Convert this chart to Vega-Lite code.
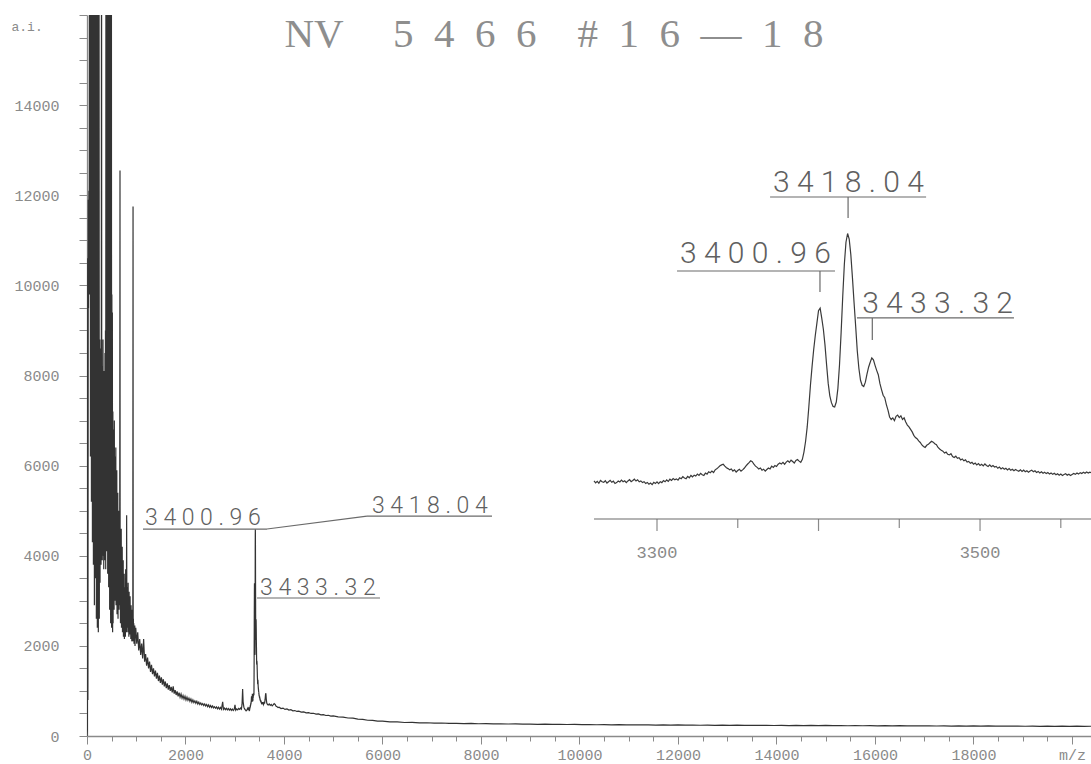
{
"$schema": "https://vega.github.io/schema/vega-lite/v6.json",
"width": 1004, "height": 721,
"autosize": "none",
"padding": {"left": 87, "top": 15, "right": 0, "bottom": 28},
"background": "white",
"config": {"view": {"stroke": null}},
"datasets": {
"spectrum": [
{"mz":0,"ai":0},{"mz":8,"ai":150},{"mz":14,"ai":10600},{"mz":18,"ai":800},{"mz":22,"ai":6000},{"mz":26,"ai":11900},{"mz":30,"ai":9500},{"mz":34,"ai":11200},{"mz":38,"ai":12100},{"mz":42,"ai":10900},{"mz":46,"ai":11700},{"mz":50,"ai":20000},{"mz":54,"ai":9800},{"mz":58,"ai":11400},{"mz":62,"ai":10800},{"mz":66,"ai":20000},{"mz":70,"ai":6200},{"mz":75,"ai":20000},{"mz":80,"ai":8400},{"mz":85,"ai":20000},{"mz":90,"ai":5200},{"mz":95,"ai":20000},{"mz":100,"ai":7000},{"mz":105,"ai":20000},{"mz":110,"ai":4300},{"mz":115,"ai":20000},{"mz":120,"ai":9000},{"mz":125,"ai":20000},{"mz":130,"ai":3800},{"mz":135,"ai":20000},{"mz":140,"ai":6500},{"mz":145,"ai":20000},{"mz":150,"ai":2900},{"mz":155,"ai":18000},{"mz":160,"ai":5400},{"mz":165,"ai":20000},{"mz":170,"ai":3500},{"mz":175,"ai":20000},{"mz":180,"ai":7400},{"mz":185,"ai":20000},{"mz":190,"ai":2600},{"mz":195,"ai":14000},{"mz":200,"ai":4800},{"mz":205,"ai":20000},{"mz":210,"ai":2400},{"mz":215,"ai":11000},{"mz":220,"ai":3100},{"mz":225,"ai":20000},{"mz":230,"ai":2300},{"mz":235,"ai":9500},{"mz":240,"ai":4200},{"mz":245,"ai":16500},{"mz":250,"ai":2600},{"mz":260,"ai":8800},{"mz":265,"ai":3400},{"mz":270,"ai":7500},{"mz":275,"ai":4200},{"mz":280,"ai":8600},{"mz":285,"ai":3800},{"mz":290,"ai":6800},{"mz":295,"ai":20000},{"mz":300,"ai":4500},{"mz":305,"ai":8200},{"mz":310,"ai":3900},{"mz":315,"ai":7400},{"mz":320,"ai":5100},{"mz":325,"ai":8800},{"mz":330,"ai":4000},{"mz":335,"ai":7200},{"mz":340,"ai":3700},{"mz":345,"ai":8100},{"mz":350,"ai":4600},{"mz":355,"ai":6900},{"mz":360,"ai":3900},{"mz":365,"ai":8500},{"mz":370,"ai":4200},{"mz":375,"ai":9000},{"mz":380,"ai":3700},{"mz":385,"ai":20000},{"mz":390,"ai":5400},{"mz":395,"ai":20000},{"mz":400,"ai":4100},{"mz":405,"ai":20000},{"mz":410,"ai":6300},{"mz":415,"ai":20000},{"mz":420,"ai":3600},{"mz":425,"ai":20000},{"mz":430,"ai":7200},{"mz":435,"ai":20000},{"mz":440,"ai":3300},{"mz":445,"ai":20000},{"mz":450,"ai":5900},{"mz":455,"ai":20000},{"mz":460,"ai":2800},{"mz":465,"ai":17000},{"mz":470,"ai":4700},{"mz":475,"ai":20000},{"mz":480,"ai":2500},{"mz":485,"ai":13500},{"mz":490,"ai":3800},{"mz":495,"ai":20000},{"mz":500,"ai":2400},{"mz":505,"ai":9800},{"mz":510,"ai":3400},{"mz":515,"ai":9400},{"mz":520,"ai":2300},{"mz":525,"ai":7200},{"mz":530,"ai":2500},{"mz":535,"ai":6800},{"mz":540,"ai":3100},{"mz":545,"ai":5900},{"mz":550,"ai":2800},{"mz":555,"ai":7000},{"mz":560,"ai":3600},{"mz":565,"ai":6200},{"mz":570,"ai":3000},{"mz":575,"ai":5600},{"mz":580,"ai":3900},{"mz":585,"ai":6400},{"mz":590,"ai":2900},{"mz":595,"ai":5300},{"mz":600,"ai":3500},{"mz":605,"ai":5900},{"mz":610,"ai":2700},{"mz":615,"ai":4800},{"mz":620,"ai":3300},{"mz":625,"ai":5400},{"mz":630,"ai":2600},{"mz":635,"ai":4500},{"mz":640,"ai":3100},{"mz":645,"ai":5000},{"mz":650,"ai":2800},{"mz":655,"ai":4300},{"mz":660,"ai":3000},{"mz":665,"ai":5200},{"mz":670,"ai":12550},{"mz":673,"ai":2900},{"mz":676,"ai":4400},{"mz":680,"ai":2500},{"mz":685,"ai":4000},{"mz":690,"ai":2800},{"mz":695,"ai":4600},{"mz":700,"ai":2400},{"mz":705,"ai":3800},{"mz":710,"ai":2700},{"mz":715,"ai":4200},{"mz":720,"ai":2300},{"mz":725,"ai":3500},{"mz":730,"ai":2600},{"mz":735,"ai":3900},{"mz":740,"ai":2200},{"mz":745,"ai":3400},{"mz":750,"ai":2500},{"mz":755,"ai":3600},{"mz":760,"ai":2150},{"mz":765,"ai":3300},{"mz":770,"ai":2400},{"mz":775,"ai":3200},{"mz":780,"ai":2200},{"mz":785,"ai":3700},{"mz":790,"ai":2500},{"mz":795,"ai":3000},{"mz":800,"ai":2300},{"mz":805,"ai":4900},{"mz":810,"ai":2400},{"mz":815,"ai":3300},{"mz":820,"ai":2600},{"mz":825,"ai":3100},{"mz":830,"ai":2300},{"mz":835,"ai":3400},{"mz":840,"ai":2500},{"mz":845,"ai":2900},{"mz":850,"ai":2200},{"mz":855,"ai":3200},{"mz":860,"ai":2400},{"mz":865,"ai":2800},{"mz":870,"ai":2250},{"mz":875,"ai":3100},{"mz":880,"ai":2300},{"mz":885,"ai":2700},{"mz":890,"ai":2150},{"mz":895,"ai":2900},{"mz":900,"ai":2300},{"mz":905,"ai":2600},{"mz":910,"ai":2100},{"mz":915,"ai":2800},{"mz":920,"ai":2250},{"mz":925,"ai":2500},{"mz":930,"ai":2100},{"mz":935,"ai":11750},{"mz":938,"ai":2200},{"mz":942,"ai":2600},{"mz":946,"ai":2150},{"mz":950,"ai":2500},{"mz":955,"ai":2050},{"mz":960,"ai":2400},{"mz":965,"ai":2100},{"mz":970,"ai":2450},{"mz":975,"ai":2000},{"mz":980,"ai":2350},
{"mz":990,"ai":2400},{"mz":1010,"ai":2050},{"mz":1030,"ai":2300},{"mz":1050,"ai":1900},{"mz":1070,"ai":2150},{"mz":1090,"ai":1800},{"mz":1110,"ai":2050},{"mz":1130,"ai":1720},{"mz":1150,"ai":2150},{"mz":1170,"ai":1650},{"mz":1190,"ai":1820},{"mz":1210,"ai":1560},{"mz":1230,"ai":1740},{"mz":1250,"ai":1500},{"mz":1270,"ai":1650},{"mz":1290,"ai":1420},{"mz":1310,"ai":1580},{"mz":1330,"ai":1370},{"mz":1350,"ai":1500},{"mz":1370,"ai":1320},{"mz":1390,"ai":1450},{"mz":1410,"ai":1270},{"mz":1430,"ai":1400},{"mz":1450,"ai":1220},{"mz":1470,"ai":1340},{"mz":1490,"ai":1180},{"mz":1510,"ai":1300},{"mz":1530,"ai":1140},{"mz":1550,"ai":1260},{"mz":1570,"ai":1100},{"mz":1590,"ai":1210},{"mz":1610,"ai":1060},{"mz":1630,"ai":1170},{"mz":1650,"ai":1030},{"mz":1670,"ai":1130},{"mz":1690,"ai":1000},{"mz":1710,"ai":1090},{"mz":1730,"ai":970},{"mz":1750,"ai":1100},{"mz":1770,"ai":940},{"mz":1790,"ai":1020},{"mz":1810,"ai":910},{"mz":1830,"ai":990},{"mz":1850,"ai":880},{"mz":1870,"ai":960},{"mz":1890,"ai":860},{"mz":1910,"ai":930},{"mz":1930,"ai":840},{"mz":1950,"ai":900},{"mz":1970,"ai":820},{"mz":1990,"ai":880},{"mz":2010,"ai":800},{"mz":2030,"ai":860},{"mz":2050,"ai":790},{"mz":2070,"ai":840},{"mz":2090,"ai":770},{"mz":2110,"ai":820},{"mz":2130,"ai":750},{"mz":2150,"ai":800},{"mz":2170,"ai":740},{"mz":2190,"ai":780},{"mz":2210,"ai":725},{"mz":2230,"ai":770},{"mz":2250,"ai":710},{"mz":2270,"ai":750},{"mz":2290,"ai":700},{"mz":2310,"ai":735},{"mz":2330,"ai":690},{"mz":2350,"ai":720},{"mz":2370,"ai":675},{"mz":2390,"ai":710},{"mz":2410,"ai":665},{"mz":2430,"ai":700},{"mz":2450,"ai":650},{"mz":2470,"ai":690},{"mz":2490,"ai":640},{"mz":2510,"ai":675},{"mz":2530,"ai":630},{"mz":2550,"ai":665},{"mz":2570,"ai":625},{"mz":2590,"ai":650},{"mz":2610,"ai":615},{"mz":2630,"ai":645},{"mz":2650,"ai":605},{"mz":2670,"ai":640},{"mz":2690,"ai":600},{"mz":2710,"ai":635},{"mz":2730,"ai":595},{"mz":2755,"ai":760},{"mz":2770,"ai":590},{"mz":2790,"ai":620},{"mz":2810,"ai":585},{"mz":2830,"ai":615},{"mz":2850,"ai":580},{"mz":2870,"ai":610},{"mz":2890,"ai":575},{"mz":2910,"ai":605},{"mz":2930,"ai":570},{"mz":2950,"ai":600},{"mz":2970,"ai":565},{"mz":2990,"ai":595},{"mz":3005,"ai":690},{"mz":3020,"ai":570},{"mz":3040,"ai":600},{"mz":3060,"ai":580},{"mz":3080,"ai":610},{"mz":3100,"ai":590},{"mz":3120,"ai":620},{"mz":3135,"ai":600},{"mz":3148,"ai":700},{"mz":3160,"ai":1040},{"mz":3170,"ai":760},{"mz":3185,"ai":640},{"mz":3200,"ai":600},{"mz":3215,"ai":580},{"mz":3230,"ai":560},{"mz":3245,"ai":575},{"mz":3255,"ai":600},
{"mz":3261,"ai":612},{"mz":3262,"ai":580},{"mz":3263,"ai":605},{"mz":3264,"ai":575},{"mz":3265,"ai":620},{"mz":3266,"ai":598},{"mz":3267,"ai":588},{"mz":3268,"ai":615},{"mz":3269,"ai":578},{"mz":3270,"ai":600},{"mz":3271,"ai":622},{"mz":3272,"ai":590},{"mz":3273,"ai":608},{"mz":3274,"ai":570},{"mz":3275,"ai":585},{"mz":3276,"ai":610},{"mz":3277,"ai":596},{"mz":3278,"ai":625},{"mz":3279,"ai":600},{"mz":3280,"ai":615},{"mz":3281,"ai":585},{"mz":3282,"ai":612},{"mz":3283,"ai":632},{"mz":3284,"ai":600},{"mz":3285,"ai":618},{"mz":3286,"ai":640},{"mz":3287,"ai":610},{"mz":3288,"ai":630},{"mz":3289,"ai":598},{"mz":3290,"ai":612},{"mz":3291,"ai":585},{"mz":3292,"ai":600},{"mz":3293,"ai":572},{"mz":3294,"ai":588},{"mz":3295,"ai":560},{"mz":3296,"ai":578},{"mz":3297,"ai":552},{"mz":3298,"ai":590},{"mz":3299,"ai":570},{"mz":3300,"ai":598},{"mz":3301,"ai":568},{"mz":3302,"ai":600},{"mz":3303,"ai":585},{"mz":3304,"ai":618},{"mz":3305,"ai":598},{"mz":3306,"ai":628},{"mz":3307,"ai":605},{"mz":3308,"ai":640},{"mz":3309,"ai":620},{"mz":3310,"ai":650},{"mz":3311,"ai":632},{"mz":3312,"ai":645},{"mz":3313,"ai":625},{"mz":3314,"ai":662},{"mz":3315,"ai":648},{"mz":3316,"ai":680},{"mz":3317,"ai":660},{"mz":3318,"ai":648},{"mz":3319,"ai":685},{"mz":3320,"ai":662},{"mz":3321,"ai":700},{"mz":3322,"ai":678},{"mz":3323,"ai":705},{"mz":3324,"ai":690},{"mz":3325,"ai":722},{"mz":3326,"ai":700},{"mz":3327,"ai":735},{"mz":3328,"ai":712},{"mz":3329,"ai":700},{"mz":3330,"ai":738},{"mz":3331,"ai":722},{"mz":3332,"ai":760},{"mz":3333,"ai":745},{"mz":3334,"ai":770},{"mz":3335,"ai":748},{"mz":3336,"ai":790},{"mz":3337,"ai":808},{"mz":3338,"ai":830},{"mz":3339,"ai":855},{"mz":3340,"ai":870},{"mz":3341,"ai":880},{"mz":3342,"ai":850},{"mz":3343,"ai":825},{"mz":3344,"ai":810},{"mz":3345,"ai":790},{"mz":3346,"ai":805},{"mz":3347,"ai":770},{"mz":3348,"ai":790},{"mz":3349,"ai":755},{"mz":3350,"ai":780},{"mz":3351,"ai":800},{"mz":3352,"ai":770},{"mz":3353,"ai":790},{"mz":3354,"ai":815},{"mz":3355,"ai":850},{"mz":3356,"ai":880},{"mz":3357,"ai":905},{"mz":3358,"ai":935},{"mz":3359,"ai":920},{"mz":3360,"ai":880},{"mz":3361,"ai":850},{"mz":3362,"ai":830},{"mz":3363,"ai":805},{"mz":3364,"ai":820},{"mz":3365,"ai":785},{"mz":3366,"ai":800},{"mz":3367,"ai":770},{"mz":3368,"ai":795},{"mz":3369,"ai":820},{"mz":3370,"ai":805},{"mz":3371,"ai":850},{"mz":3372,"ai":830},{"mz":3373,"ai":860},{"mz":3374,"ai":845},{"mz":3375,"ai":880},{"mz":3376,"ai":900},{"mz":3377,"ai":885},{"mz":3378,"ai":910},{"mz":3379,"ai":880},{"mz":3380,"ai":915},{"mz":3381,"ai":935},{"mz":3382,"ai":910},{"mz":3383,"ai":945},{"mz":3384,"ai":925},{"mz":3385,"ai":900},{"mz":3386,"ai":940},{"mz":3387,"ai":955},{"mz":3388,"ai":930},{"mz":3389,"ai":910},{"mz":3390,"ai":960},{"mz":3391,"ai":1080},{"mz":3392,"ai":1250},{"mz":3393,"ai":1480},{"mz":3394,"ai":1800},{"mz":3395,"ai":2150},{"mz":3396,"ai":2450},{"mz":3397,"ai":2720},{"mz":3398,"ai":2950},{"mz":3399,"ai":3150},{"mz":3400,"ai":3350},{"mz":3401,"ai":3390},{"mz":3402,"ai":3230},{"mz":3403,"ai":3050},{"mz":3404,"ai":2800},{"mz":3405,"ai":2480},{"mz":3406,"ai":2180},{"mz":3407,"ai":1980},{"mz":3408,"ai":1870},{"mz":3409,"ai":1810},{"mz":3410,"ai":1800},{"mz":3411,"ai":1880},{"mz":3412,"ai":2100},{"mz":3413,"ai":2480},{"mz":3414,"ai":3000},{"mz":3415,"ai":3580},{"mz":3416,"ai":4100},{"mz":3417,"ai":4450},{"mz":3418,"ai":4590},{"mz":3419,"ai":4500},{"mz":3420,"ai":4250},{"mz":3421,"ai":3880},{"mz":3422,"ai":3480},{"mz":3423,"ai":3100},{"mz":3424,"ai":2700},{"mz":3425,"ai":2420},{"mz":3426,"ai":2230},{"mz":3427,"ai":2150},{"mz":3428,"ai":2130},{"mz":3429,"ai":2200},{"mz":3430,"ai":2330},{"mz":3431,"ai":2440},{"mz":3432,"ai":2520},{"mz":3433,"ai":2590},{"mz":3434,"ai":2560},{"mz":3435,"ai":2470},{"mz":3436,"ai":2390},{"mz":3437,"ai":2320},{"mz":3438,"ai":2180},{"mz":3439,"ai":2080},{"mz":3440,"ai":1990},{"mz":3441,"ai":1950},{"mz":3442,"ai":1840},{"mz":3443,"ai":1750},{"mz":3444,"ai":1640},{"mz":3445,"ai":1600},{"mz":3446,"ai":1625},{"mz":3447,"ai":1580},{"mz":3448,"ai":1650},{"mz":3449,"ai":1670},{"mz":3450,"ai":1630},{"mz":3451,"ai":1660},{"mz":3452,"ai":1600},{"mz":3453,"ai":1625},{"mz":3454,"ai":1560},
{"mz":3455,"ai":1510},{"mz":3456,"ai":1480},{"mz":3457,"ai":1440},{"mz":3458,"ai":1400},{"mz":3459,"ai":1345},{"mz":3460,"ai":1310},{"mz":3461,"ai":1290},{"mz":3462,"ai":1255},{"mz":3463,"ai":1230},{"mz":3464,"ai":1190},{"mz":3465,"ai":1165},{"mz":3466,"ai":1150},{"mz":3467,"ai":1185},{"mz":3468,"ai":1200},{"mz":3469,"ai":1225},{"mz":3470,"ai":1250},{"mz":3471,"ai":1235},{"mz":3472,"ai":1210},{"mz":3473,"ai":1195},{"mz":3474,"ai":1150},{"mz":3475,"ai":1125},{"mz":3476,"ai":1105},{"mz":3477,"ai":1090},{"mz":3478,"ai":1060},{"mz":3479,"ai":1075},{"mz":3480,"ai":1040},{"mz":3481,"ai":1030},{"mz":3482,"ai":1050},{"mz":3483,"ai":1005},{"mz":3484,"ai":990},{"mz":3485,"ai":1010},{"mz":3486,"ai":975},{"mz":3487,"ai":985},{"mz":3488,"ai":950},{"mz":3489,"ai":965},{"mz":3490,"ai":935},{"mz":3491,"ai":950},{"mz":3492,"ai":915},{"mz":3493,"ai":925},{"mz":3494,"ai":895},{"mz":3495,"ai":910},{"mz":3496,"ai":880},{"mz":3497,"ai":900},{"mz":3498,"ai":870},{"mz":3499,"ai":890},{"mz":3500,"ai":860},{"mz":3501,"ai":880},{"mz":3502,"ai":855},{"mz":3503,"ai":885},{"mz":3504,"ai":860},{"mz":3505,"ai":845},{"mz":3506,"ai":870},{"mz":3507,"ai":840},{"mz":3508,"ai":860},{"mz":3509,"ai":835},{"mz":3510,"ai":845},{"mz":3511,"ai":815},{"mz":3512,"ai":835},{"mz":3513,"ai":805},{"mz":3514,"ai":825},{"mz":3515,"ai":800},{"mz":3516,"ai":815},{"mz":3517,"ai":790},{"mz":3518,"ai":810},{"mz":3519,"ai":785},{"mz":3520,"ai":800},{"mz":3521,"ai":775},{"mz":3522,"ai":795},{"mz":3523,"ai":780},{"mz":3524,"ai":768},{"mz":3525,"ai":790},{"mz":3526,"ai":765},{"mz":3527,"ai":785},{"mz":3528,"ai":760},{"mz":3529,"ai":775},{"mz":3530,"ai":752},{"mz":3531,"ai":770},{"mz":3532,"ai":785},{"mz":3533,"ai":760},{"mz":3534,"ai":775},{"mz":3535,"ai":748},{"mz":3536,"ai":765},{"mz":3537,"ai":740},{"mz":3538,"ai":758},{"mz":3539,"ai":735},{"mz":3540,"ai":752},{"mz":3541,"ai":730},{"mz":3542,"ai":748},{"mz":3543,"ai":722},{"mz":3544,"ai":740},{"mz":3545,"ai":718},{"mz":3546,"ai":735},{"mz":3547,"ai":712},{"mz":3548,"ai":728},{"mz":3549,"ai":705},{"mz":3550,"ai":722},{"mz":3551,"ai":700},{"mz":3552,"ai":715},{"mz":3553,"ai":728},{"mz":3554,"ai":705},{"mz":3555,"ai":720},{"mz":3556,"ai":698},{"mz":3557,"ai":715},{"mz":3558,"ai":732},{"mz":3559,"ai":718},{"mz":3560,"ai":740},{"mz":3561,"ai":722},{"mz":3562,"ai":745},{"mz":3563,"ai":730},{"mz":3564,"ai":750},{"mz":3565,"ai":735},{"mz":3566,"ai":755},{"mz":3567,"ai":738},{"mz":3568,"ai":752},{"mz":3568.7,"ai":745},
{"mz":3575,"ai":730},{"mz":3585,"ai":700},{"mz":3595,"ai":760},{"mz":3605,"ai":720},{"mz":3615,"ai":800},{"mz":3625,"ai":920},{"mz":3632,"ai":950},{"mz":3640,"ai":820},{"mz":3650,"ai":730},{"mz":3665,"ai":700},{"mz":3680,"ai":690},{"mz":3700,"ai":710},{"mz":3720,"ai":680},{"mz":3740,"ai":700},{"mz":3760,"ai":670},{"mz":3780,"ai":690},{"mz":3800,"ai":720},{"mz":3820,"ai":700},{"mz":3840,"ai":660},{"mz":3860,"ai":650},{"mz":3880,"ai":630},{"mz":3900,"ai":640},{"mz":3940,"ai":610},{"mz":3980,"ai":620},{"mz":4020,"ai":590},{"mz":4060,"ai":600},{"mz":4100,"ai":575},{"mz":4140,"ai":585},{"mz":4180,"ai":560},{"mz":4220,"ai":565},{"mz":4260,"ai":545},{"mz":4300,"ai":550},{"mz":4350,"ai":530},{"mz":4400,"ai":535},{"mz":4450,"ai":515},{"mz":4500,"ai":520},{"mz":4550,"ai":500},{"mz":4600,"ai":505},{"mz":4650,"ai":485},{"mz":4700,"ai":490},{"mz":4750,"ai":470},{"mz":4800,"ai":475},{"mz":4850,"ai":455},{"mz":4900,"ai":460},{"mz":4950,"ai":440},{"mz":5000,"ai":445},{"mz":5100,"ai":425},{"mz":5200,"ai":420},{"mz":5300,"ai":400},{"mz":5400,"ai":395},{"mz":5500,"ai":375},{"mz":5600,"ai":370},{"mz":5700,"ai":350},{"mz":5800,"ai":345},{"mz":5900,"ai":330},{"mz":6000,"ai":330},{"mz":6150,"ai":315},{"mz":6300,"ai":312},{"mz":6450,"ai":300},{"mz":6600,"ai":302},{"mz":6750,"ai":292},{"mz":6900,"ai":294},{"mz":7050,"ai":285},{"mz":7200,"ai":288},{"mz":7350,"ai":280},{"mz":7500,"ai":282},{"mz":7650,"ai":276},{"mz":7800,"ai":278},{"mz":7950,"ai":272},{"mz":8100,"ai":274},{"mz":8250,"ai":268},{"mz":8400,"ai":270},{"mz":8550,"ai":266},{"mz":8700,"ai":268},{"mz":8850,"ai":262},{"mz":9000,"ai":264},{"mz":9150,"ai":260},{"mz":9300,"ai":262},{"mz":9450,"ai":257},{"mz":9600,"ai":259},{"mz":9750,"ai":255},{"mz":9900,"ai":257},{"mz":10050,"ai":252},{"mz":10200,"ai":255},{"mz":10350,"ai":250},{"mz":10500,"ai":253},{"mz":10650,"ai":248},{"mz":10800,"ai":251},{"mz":10950,"ai":246},{"mz":11100,"ai":249},{"mz":11250,"ai":245},{"mz":11400,"ai":248},{"mz":11550,"ai":243},{"mz":11700,"ai":246},{"mz":11850,"ai":242},{"mz":12000,"ai":245},{"mz":12150,"ai":240},{"mz":12300,"ai":243},{"mz":12450,"ai":239},{"mz":12600,"ai":242},{"mz":12750,"ai":237},{"mz":12900,"ai":241},{"mz":13050,"ai":236},{"mz":13200,"ai":240},{"mz":13350,"ai":235},{"mz":13500,"ai":239},{"mz":13650,"ai":234},{"mz":13800,"ai":238},{"mz":13950,"ai":233},{"mz":14100,"ai":237},{"mz":14250,"ai":232},{"mz":14400,"ai":236},{"mz":14550,"ai":231},{"mz":14700,"ai":235},{"mz":14850,"ai":230},{"mz":15000,"ai":234},{"mz":15150,"ai":229},{"mz":15300,"ai":233},{"mz":15450,"ai":228},{"mz":15600,"ai":232},{"mz":15750,"ai":227},{"mz":15900,"ai":231},{"mz":16050,"ai":226},{"mz":16200,"ai":230},{"mz":16350,"ai":225},{"mz":16500,"ai":229},{"mz":16650,"ai":224},{"mz":16800,"ai":228},{"mz":16950,"ai":223},{"mz":17100,"ai":227},{"mz":17250,"ai":222},{"mz":17400,"ai":226},{"mz":17550,"ai":221},{"mz":17700,"ai":225},{"mz":17850,"ai":220},{"mz":18000,"ai":224},{"mz":18150,"ai":219},{"mz":18300,"ai":223},{"mz":18450,"ai":218},{"mz":18600,"ai":222},{"mz":18750,"ai":217},{"mz":18900,"ai":221},{"mz":19050,"ai":216},{"mz":19200,"ai":220},{"mz":19350,"ai":215},{"mz":19500,"ai":219},{"mz":19650,"ai":214},{"mz":19800,"ai":218},{"mz":19950,"ai":213},{"mz":20100,"ai":217},{"mz":20250,"ai":212},{"mz":20386,"ai":216}
],
"titleRow": [{"mz": 9482, "ai": 15290}],
"mainNotes": [
{"label":"3400.96","mz":1178,"ai":4690},
{"label":"3418.04","mz":5787,"ai":4950},
{"label":"3433.32","mz":3513,"ai":3130}
],
"mainLines": [
{"mz":1137,"mz2":3655,"ai":4593,"ai2":4593},
{"mz":3655,"mz2":5685,"ai":4593,"ai2":4881},
{"mz":5685,"mz2":8223,"ai":4881,"ai2":4881},
{"mz":3452,"mz2":5949,"ai":3062,"ai2":3062}
],
"insetNotes": [
{"label":"3400.96","mz":3314.2,"ai":4116},
{"label":"3418.04","mz":3371.8,"ai":5257},
{"label":"3433.32","mz":3427.0,"ai":3312}
],
"insetLines": [
{"mz":3261,"mz2":3568.7,"ai":0,"ai2":0},
{"mz":3312.4,"mz2":3410.2,"ai":3987,"ai2":3987},
{"mz":3400.9,"mz2":3400.9,"ai":3987,"ai2":3650},
{"mz":3370,"mz2":3466.6,"ai":5177,"ai2":5177},
{"mz":3418.3,"mz2":3418.3,"ai":5177,"ai2":4839},
{"mz":3423.8,"mz2":3521,"ai":3232,"ai2":3232},
{"mz":3433.3,"mz2":3433.3,"ai":3232,"ai2":2878}
],
"insetMajor": [{"mz":3300,"label":"3300"},{"mz":3400,"label":""},{"mz":3500,"label":"3500"}],
"insetMinor": [{"mz":3350},{"mz":3450},{"mz":3550}]
},
"layer": [
{
"data": {"name": "spectrum"},
"encoding": {
"x": {"field": "mz", "type": "quantitative",
 "scale": {"domain": [0, 20386], "nice": false, "zero": false},
 "axis": {
  "values": [0,500,1000,1500,2000,2500,3000,3500,4000,4500,5000,5500,6000,6500,7000,7500,8000,8500,9000,9500,10000,10500,11000,11500,12000,12500,13000,13500,14000,14500,15000,15500,16000,16500,17000,17500,18000,18500,19000,19500,20000],
  "labelExpr": "datum.value % 2000 === 0 ? (datum.value === 20000 ? 'm/z' : format(datum.value, 'd')) : ''",
  "tickSize": {"condition": {"test": "datum.value % 2000 === 0", "value": 8}, "value": 5},
  "title": null, "grid": false,
  "domainColor": "#8a8a8a", "tickColor": "#8a8a8a", "domainWidth": 1.3,
  "labelColor": "#8a8a8a", "labelFont": "Liberation Mono", "labelFontSize": 15,
  "labelPadding": 3, "labelOverlap": false, "labelFlush": false, "labelBound": false
 }},
"y": {"field": "ai", "type": "quantitative",
 "scale": {"domain": [0, 16000], "nice": false, "zero": false},
 "axis": {
  "values": [0,500,1000,1500,2000,2500,3000,3500,4000,4500,5000,5500,6000,6500,7000,7500,8000,8500,9000,9500,10000,10500,11000,11500,12000,12500,13000,13500,14000,14500,15000,15500,16000],
  "labelExpr": "datum.value % 2000 === 0 && datum.value < 16000 ? format(datum.value, 'd') : ''",
  "tickSize": 8, "grid": false,
  "title": "a.i.", "titleAngle": 0, "titleAlign": "left", "titleBaseline": "middle",
  "titleX": -76, "titleY": 11, "titleFont": "Liberation Mono", "titleFontWeight": "normal",
  "titleFontSize": 13, "titleColor": "#8a8a8a",
  "domainColor": "#8a8a8a", "tickColor": "#8a8a8a", "domainWidth": 1.3,
  "labelColor": "#8a8a8a", "labelFont": "Liberation Mono", "labelFontSize": 15,
  "labelPadding": 20, "labelOverlap": false, "labelFlush": false, "labelBound": false
 }}
},
"layer": [
 {"mark": {"type": "line", "color": "#333333", "strokeWidth": 1.2, "clip": true}},
 {"data": {"name": "titleRow"},
  "mark": {"type": "text", "text": "NV\u2009\u2002\u20025\u20024\u20026\u20026\u2002\u2002#\u20021\u20026\u2002\u2014\u20021\u20028",
   "font": "Liberation Serif", "fontSize": 41, "align": "center", "baseline": "alphabetic",
   "color": "#8e8e8e"}},
 {"data": {"name": "mainNotes"},
  "transform": [{"calculate": "join(split(datum.label, ''), ' ')", "as": "spaced"}],
  "mark": {"type": "text", "font": "Roboto", "fontWeight": 300, "fontSize": 23, "align": "left", "baseline": "alphabetic", "color": "#606060"},
  "encoding": {"text": {"field": "spaced"}}},
 {"data": {"name": "mainLines"},
  "mark": {"type": "rule", "color": "#6a6a6a", "strokeWidth": 1.2},
  "encoding": {"x2": {"field": "mz2"}, "y2": {"field": "ai2"}}}
]
},
{
"layer": [
 {"data": {"name": "spectrum"},
  "transform": [{"filter": "datum.mz >= 3261 && datum.mz <= 3569"}],
  "mark": {"type": "line", "color": "#3a3a3a", "strokeWidth": 1.2},
  "encoding": {
   "x": {"field": "mz", "type": "quantitative", "scale": {"domain": [2947.1, 3568.7], "nice": false, "zero": false}, "axis": null},
   "y": {"field": "ai", "type": "quantitative", "scale": {"domain": [-3489, 8103], "nice": false, "zero": false}, "axis": null}}},
 {"data": {"name": "insetMajor"},
  "mark": {"type": "rule", "color": "#8a8a8a", "strokeWidth": 1.2},
  "encoding": {
   "x": {"field": "mz", "type": "quantitative", "scale": {"domain": [2947.1, 3568.7], "nice": false, "zero": false}, "axis": null},
   "y": {"datum": 0, "type": "quantitative", "scale": {"domain": [-3489, 8103], "nice": false, "zero": false}, "axis": null},
   "y2": {"datum": -193}}},
 {"data": {"name": "insetMinor"},
  "mark": {"type": "rule", "color": "#8a8a8a", "strokeWidth": 1.2},
  "encoding": {
   "x": {"field": "mz", "type": "quantitative", "scale": {"domain": [2947.1, 3568.7], "nice": false, "zero": false}, "axis": null},
   "y": {"datum": 0, "type": "quantitative", "scale": {"domain": [-3489, 8103], "nice": false, "zero": false}, "axis": null},
   "y2": {"datum": -145}}},
 {"data": {"name": "insetMajor"},
  "mark": {"type": "text", "font": "Liberation Mono", "fontSize": 17, "align": "center", "baseline": "middle", "color": "#8a8a8a"},
  "encoding": {
   "x": {"field": "mz", "type": "quantitative", "scale": {"domain": [2947.1, 3568.7], "nice": false, "zero": false}, "axis": null},
   "y": {"datum": -547, "type": "quantitative", "scale": {"domain": [-3489, 8103], "nice": false, "zero": false}, "axis": null},
   "text": {"field": "label"}}},
 {"data": {"name": "insetNotes"},
  "transform": [{"calculate": "join(split(datum.label, ''), ' ')", "as": "spaced"}],
  "mark": {"type": "text", "font": "Roboto", "fontWeight": 300, "fontSize": 30, "align": "left", "baseline": "alphabetic", "color": "#606060"},
  "encoding": {
   "x": {"field": "mz", "type": "quantitative", "scale": {"domain": [2947.1, 3568.7], "nice": false, "zero": false}, "axis": null},
   "y": {"field": "ai", "type": "quantitative", "scale": {"domain": [-3489, 8103], "nice": false, "zero": false}, "axis": null},
   "text": {"field": "spaced"}}},
 {"data": {"name": "insetLines"},
  "mark": {"type": "rule", "color": "#6a6a6a", "strokeWidth": 1.2},
  "encoding": {
   "x": {"field": "mz", "type": "quantitative", "scale": {"domain": [2947.1, 3568.7], "nice": false, "zero": false}, "axis": null},
   "y": {"field": "ai", "type": "quantitative", "scale": {"domain": [-3489, 8103], "nice": false, "zero": false}, "axis": null},
   "x2": {"field": "mz2"}, "y2": {"field": "ai2"}}}
]
}
],
"resolve": {"scale": {"x": "independent", "y": "independent"}}
}
